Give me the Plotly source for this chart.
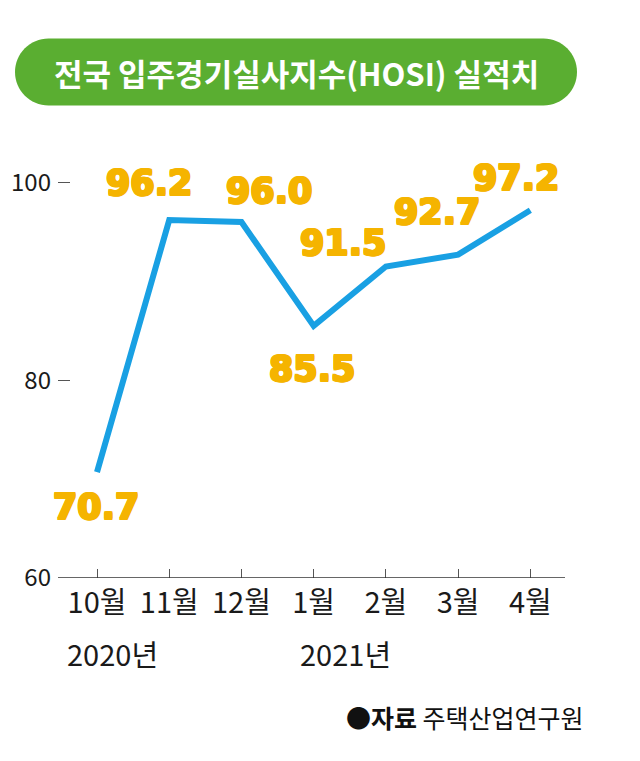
import plotly.graph_objects as go

months = ['10월', '11월', '12월', '1월', '2월', '3월', '4월']
hosi = [70.7, 96.2, 96.0, 85.5, 91.5, 92.7, 97.2]
year_labels = {'10월': '2020년', '1월': '2021년'}
y_ticks = [60, 80, 100]

title_text = '전국 입주경기실사지수(HOSI) 실적치'
source_text = '<b>●자료</b> 주택산업연구원'

# label offsets in px (x, y) relative to each point
label_shift = [(-1, -35), (-20, 37), (28, 31), (-2, -43), (-43, 24), (-21, 43), (-14, 32)]
year_shift = {'10월': -32, '1월': -16}

OFF = 8  # page body margin
PL, PR, PT, PB = 58 - OFF, 565 - OFF, 137.5 - OFF, 578 - OFF   # plot area in px
W, H = PR - PL, PB - PT
FIG_W, FIG_H = 640 - OFF, 761 - OFF


def px(x):
    return (x - OFF - PL) / W


def py(y):
    return (PB - (y - OFF)) / H


def pill_path(x0, y0, x1, y1):
    # rounded-end rectangle built from cubic curves, in paper coords
    r = (y1 - y0) / 2
    k = 0.5523 * r
    pts = [
        ('M', [(x0 + r, y0)]),
        ('L', [(x1 - r, y0)]),
        ('C', [(x1 - r + k, y0), (x1, y0 + r - k), (x1, y0 + r)]),
        ('C', [(x1, y0 + r + k), (x1 - r + k, y1), (x1 - r, y1)]),
        ('L', [(x0 + r, y1)]),
        ('C', [(x0 + r - k, y1), (x0, y0 + r + k), (x0, y0 + r)]),
        ('C', [(x0, y0 + r - k), (x0 + r - k, y0), (x0 + r, y0)]),
    ]
    s = ''
    for cmd, ps in pts:
        s += cmd + ' ' + ' '.join(f'{px(a):.5f},{py(b):.5f}' for a, b in ps) + ' '
    return s + 'Z'


lab_col = '#F5B400'
fat = ', '.join(f'{a}px {b}px 0 {lab_col}' for a, b in
                [(1, 0), (-1, 0), (0, 1), (0, -1), (1, 1), (-1, -1), (1, -1), (-1, 1)])
kfont = 'Noto Sans CJK KR'

fig = go.Figure()
fig.add_trace(go.Scatter(
    x=list(range(len(months))), y=hosi, mode='lines',
    line={'color': '#19A0E3', 'width': 6}, hoverinfo='skip'
))

for i, v in enumerate(hosi):
    dx, dy = label_shift[i]
    fig.add_annotation(
        x=i, y=v, text=f'<b>{v:.1f}</b>', showarrow=False,
        xshift=dx, yshift=dy,
        font={'family': 'DejaVu Sans', 'size': 35, 'color': lab_col, 'shadow': fat}
    )

for i, m in enumerate(months):
    if m in year_labels:
        fig.add_annotation(
            x=i, y=0, xref='x', yref='paper', text=year_labels[m],
            showarrow=False, xanchor='left', yanchor='middle',
            xshift=year_shift[m], yshift=-75,
            font={'family': kfont, 'size': 29, 'color': '#1a1a1a'}
        )

# x axis baseline
fig.add_shape(type='line', xref='paper', yref='y', x0=0, x1=1, y0=60, y1=60,
              line={'color': '#333', 'width': 1.5})

# title pill
fig.add_shape(type='path', xref='paper', yref='paper', layer='below',
              path=pill_path(15, 38, 577, 105),
              fillcolor='#5AAE31', line={'width': 0})
fig.add_annotation(
    xref='paper', yref='paper', x=px(296), y=py(72), yanchor='middle',
    text=f'<b>{title_text}</b>', showarrow=False,
    font={'family': kfont, 'size': 31, 'color': 'white'}
)
fig.add_annotation(
    xref='paper', yref='paper', x=px(586), y=py(717), xanchor='right',
    yanchor='middle', text=source_text, showarrow=False,
    font={'family': kfont, 'size': 25, 'color': '#111'}
)

fig.update_xaxes(
    tickmode='array', tickvals=list(range(len(months))), ticktext=months,
    range=[-0.54, 6.48], showgrid=False, zeroline=False, showline=False,
    ticks='inside', ticklen=9, tickcolor='#555', tickwidth=1, automargin=False,
    tickfont={'family': kfont, 'size': 29, 'color': '#1a1a1a'},
    ticklabelstandoff=5
)
fig.update_yaxes(
    range=[60, 104.5], tickvals=y_ticks, showgrid=False, zeroline=False,
    showline=False, ticks='inside', ticklen=12, tickcolor='#555', tickwidth=1,
    automargin=False,
    tickfont={'family': kfont, 'size': 24, 'color': '#1a1a1a'},
    ticklabelstandoff=6
)
fig.update_layout(
    width=FIG_W, height=FIG_H, showlegend=False,
    margin={'l': PL, 'r': FIG_W - PR, 't': PT, 'b': FIG_H - PB},
    plot_bgcolor='white', paper_bgcolor='white'
)
fig.write_html('out.html')
